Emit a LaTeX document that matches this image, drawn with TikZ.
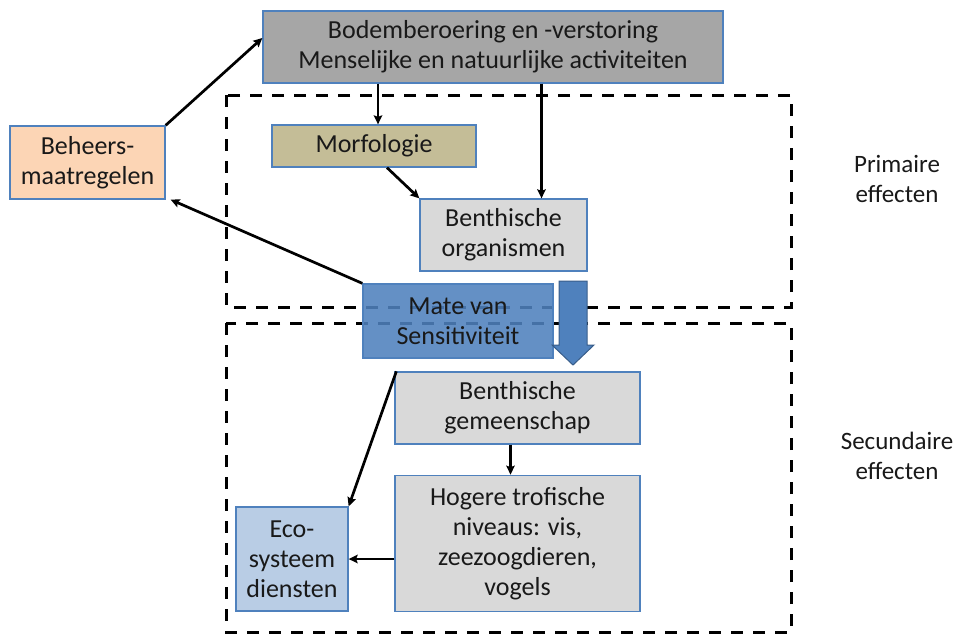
\documentclass[tikz,border=0pt]{standalone}
\usepackage{fontspec}
\setmainfont{Carlito}
\usepackage{tikz}
\usetikzlibrary{arrows.meta, positioning, calc}
\definecolor{EdgeBlue}{HTML}{4F81BD}
\definecolor{DarkBlue}{HTML}{385D8A}
\definecolor{CauseGray}{HTML}{A6A6A6}
\definecolor{MorphTan}{HTML}{C4BD97}
\definecolor{BiotaGray}{HTML}{D9D9D9}
\definecolor{MeasurePeach}{HTML}{FCD5B5}
\definecolor{EcoBlue}{HTML}{B9CDE5}
\tikzset{
  fx box/.style={rectangle, draw=EdgeBlue, line width=1.3pt, inner sep=2pt,
                 align=center, font=\fontsize{26}{30}\selectfont, text=black!90},
  cause box/.style={fx box, fill=CauseGray},
  measure box/.style={fx box, fill=MeasurePeach},
  morph box/.style={fx box, fill=MorphTan},
  biota box/.style={fx box, fill=BiotaGray},
  sens box/.style={fx box, fill=EdgeBlue, fill opacity=0.88, text opacity=1},
  eco box/.style={fx box, fill=EcoBlue},
  fx edge/.style={-{Stealth[length=9pt, width=8.5pt, inset=1.5pt]}, line width=2.7pt},
  group frame/.style={dash pattern=on 12pt off 10pt, line width=3pt},
  side label/.style={align=center, font=\fontsize{25}{30}\selectfont, text=black!90},
}

\begin{document}
\begin{tikzpicture}[x=1pt, y=-1pt]
  \useasboundingbox (0,0) rectangle (960,633);
  % kaders
  \draw[group frame] (226,95) rectangle (791,307);
  \draw[group frame] (226,323) rectangle (791,632);
  \node[side label] (prim) at (897,179) {Primaire\\effecten};
  \node[side label] (sec) at (897,456) {Secundaire\\effecten};

  \node[cause box, minimum width=460pt, minimum height=72pt] (bodem) at (493,47)
    {Bodemberoering en -verstoring\\Menselijke en natuurlijke activiteiten};
  \node[measure box, minimum width=155pt, minimum height=73pt] (beheer) at (87.5,162.5)
    {Beheers-\\maatregelen};
  \node[morph box, minimum width=204pt, minimum height=42pt] (morf) at (374,146) {Morfologie};
  \node[biota box, minimum width=167pt, minimum height=72pt] (org) at (503.5,235)
    {Benthische\\organismen};
  \node[biota box, minimum width=245pt, minimum height=72pt] (gem) at (517.5,408)
    {Benthische\\gemeenschap};
  \node[biota box, minimum width=245pt, minimum height=136pt, below=30pt of gem] (hog)
    {Hogere trofische\\niveaus: vis,\\zeezoogdieren,\\vogels};
  \node[eco box, minimum width=112pt, minimum height=104pt] (eco) at (292,559)
    {Eco-\\systeem\\diensten};
  \node[sens box, minimum width=190pt, minimum height=74pt] (mate) at (458,321)
    {Mate van\\Sensitiviteit};

  % brede pijl naar secundaire effecten
  \filldraw[fill=EdgeBlue, draw=DarkBlue, line width=1pt]
    (559,281) -- (587,281) -- (587,345) -- (594,345) -- (573,365)
    -- (552,345) -- (559,345) -- cycle;

  \draw[fx edge] (beheer.north east) -- ([yshift=9pt]bodem.west);
  \draw[fx edge] ([xshift=4pt]morf.north |- bodem.south) -- ([xshift=4pt]morf.north);
  \draw[fx edge] ([xshift=38pt]org.north |- bodem.south) -- ([xshift=38pt]org.north);
  \draw[fx edge] ([xshift=13pt]morf.south) -- (org.north west);
  \draw[fx edge] (mate.north west) -- ([xshift=5pt]beheer.south east);
  \draw[fx edge] ([xshift=-7pt]gem.south) -- ([xshift=-7pt]hog.north);
  \draw[fx edge] (eco.east -| hog.west) -- (eco.east);
  \draw[fx edge] ([xshift=2pt]gem.north west) -- (eco.north east);
\end{tikzpicture}
\end{document}
